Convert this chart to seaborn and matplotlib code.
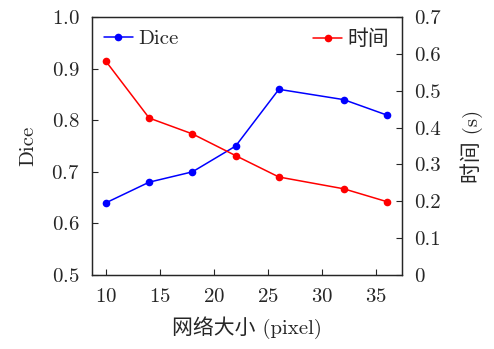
"""Dice and time vs. network size"""
import seaborn as sns
import matplotlib.pyplot as plt
import pandas as pd

sizes = [10, 14, 18, 22, 26, 32, 36]
dice = [0.64, 0.68, 0.70, 0.75, 0.86, 0.84, 0.81]
times = [0.58, 0.426, 0.383, 0.324, 0.266, 0.234, 0.199]

sns.set_style("ticks")
plt.rcParams['font.family'] = ['cmr10', 'Noto Sans CJK SC']
plt.rcParams['axes.formatter.use_mathtext'] = True
plt.rcParams['xtick.direction'] = 'in'
plt.rcParams['ytick.direction'] = 'in'

df = pd.DataFrame({'size': sizes, 'dice': dice, 'time': times})

fig = plt.figure(figsize=(4.94, 3.49), dpi=100)
ax = fig.add_axes([0.186, 0.212, 0.628, 0.739])
ax2 = ax.twinx()

sns.lineplot(data=df, x='size', y='dice', ax=ax, color='#0000ff', marker='o',
             markersize=5.5, markeredgewidth=0, linewidth=1.1, label='Dice', legend=False)
sns.lineplot(data=df, x='size', y='time', ax=ax2, color='#ff0000', marker='o',
             markersize=5.5, markeredgewidth=0, linewidth=1.1, label='时间', legend=False)

ax.set_xlim(8.7, 37.4)
ax.set_xticks([10, 15, 20, 25, 30, 35])
ax.set_ylim(0.5, 1.0)
ax.set_yticks([0.5, 0.6, 0.7, 0.8, 0.9, 1.0])
ax2.set_ylim(0, 0.7)
ax2.set_yticks([0, 0.1, 0.2, 0.3, 0.4, 0.5, 0.6, 0.7])
ax2.set_yticklabels(['0', '0.1', '0.2', '0.3', '0.4', '0.5', '0.6', '0.7'])

fs = 15
ax.set_xlabel('网络大小 (pixel)', fontsize=fs, labelpad=8)
ax.set_ylabel('Dice', fontsize=fs, labelpad=10)
ax2.set_ylabel('时间 (s)', fontsize=fs, labelpad=14)
for a in (ax, ax2):
    a.tick_params(labelsize=fs, length=4, width=0.8, pad=9)
    for s in a.spines.values():
        s.set_linewidth(0.9)

ax.legend(loc='upper left', frameon=False, fontsize=fs, handlelength=1.35,
          handletextpad=0.3, borderaxespad=0.2)
ax2.legend(loc='upper right', frameon=False, fontsize=fs, handlelength=1.35,
           handletextpad=0.3, borderaxespad=0.2)

plt.savefig('out.png', dpi=100)
plt.close()
